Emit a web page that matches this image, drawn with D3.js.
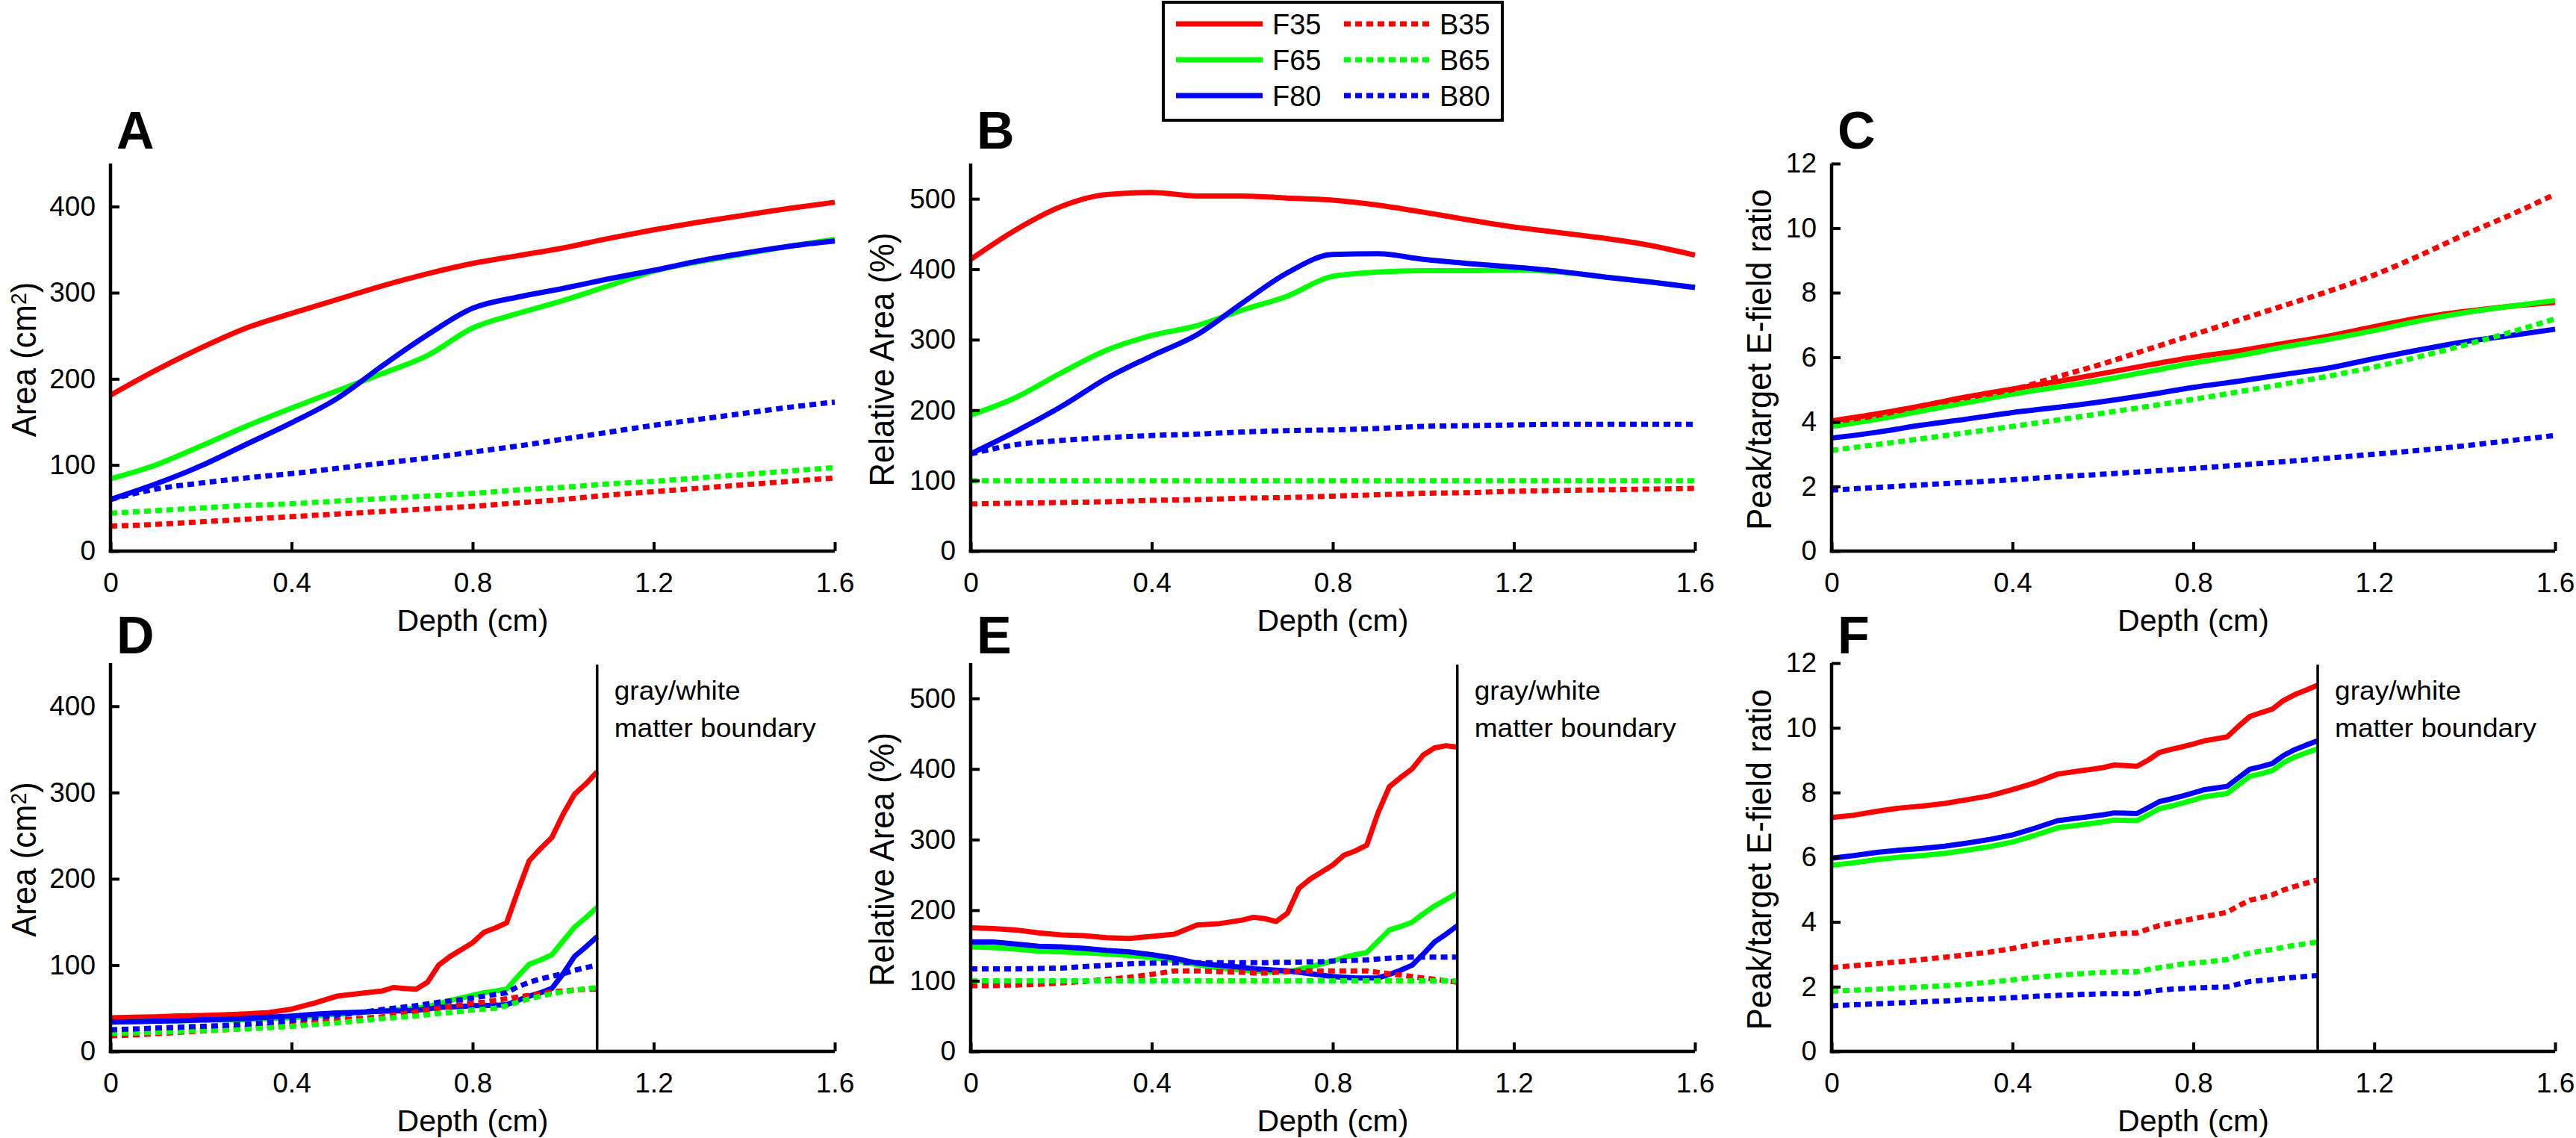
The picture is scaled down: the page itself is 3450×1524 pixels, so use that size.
<!DOCTYPE html>
<html><head><meta charset="utf-8">
<script src="https://cdn.jsdelivr.net/npm/d3@7"></script>
<style>
body{margin:0;background:#fff}
text{font-family:"Liberation Sans",Arial,Helvetica,sans-serif;fill:#000}
</style>
</head><body><svg id="c" width="3450" height="1524"></svg>
<script>
// ---------- data ----------
const seriesNames = ["F35","F65","F80","B35","B65","B80"];
const seriesColors = ["#ff0000","#00ff00","#0000ff","#ff0000","#00ff00","#0000ff"];
const seriesDotted = [false,false,false,true,true,true];
const xTicks = [0,0.4,0.8,1.2,1.6];
const xTickLabels = ["0","0.4","0.8","1.2","1.6"];
const boundaryDepth = 1.075;

const depthTop = [0,0.1,0.2,0.3,0.4,0.5,0.6,0.7,0.8,0.9,1.0,1.1,1.2,1.3,1.4,1.5,1.6];
const depthBottom = [0,0.05,0.1,0.15,0.2,0.25,0.3,0.35,0.4,0.45,0.5,0.55,
  0.6,0.625,0.65,0.675,0.7,0.725,0.75,0.775,0.8,0.825,0.85,0.875,0.9,0.925,0.95,0.975,1.0,1.025,1.05,1.075];

// Panel A: Area (cm^2)
const aF35 = [181,210,236,259,276,292,308,322,334,343,352,363,373,382,390,398,405];
const aF65 = [84,100,122,145,166,186,206,227,259,276,291,308,325,336,345,354,362];
const aF80 = [60,78,99,124,149,177,215,251,282,295,305,316,326,337,346,354,360];
const aB35 = [29,31,34,37,40,43,46,49,52,56,60,65,69,73,77,81,85];
const aB65 = [44,47,50,53,55,58,61,64,67,71,74,78,81,85,89,93,97];
const aB80 = [60,72,79,85,90,96,102,108,115,122,130,138,146,153,160,167,173];
// Panel B: Relative Area (%)
const bF35 = [414,456,489,506,509,504,504,501,498,491,481,470,460,452,444,434,420];
const bF65 = [193,218,253,285,306,320,342,362,390,396,398,398,399,396,389,382,374];
const bF80 = [138,170,205,245,277,307,352,395,421,422,414,408,403,397,389,382,374];
const bB35 = [67,68,69,70,72,73,75,76,78,80,82,83,85,86,87,88,89];
const bB65 = [100,100,100,100,100,100,100,100,100,100,100,100,100,100,100,100,100];
const bB80 = [138,151,157,161,164,166,169,171,172,174,177,178,179,180,180,180,180];
// Panel C: Peak/target E-field ratio
const cF35 = [4.03,4.25,4.5,4.78,5.02,5.25,5.5,5.76,6.0,6.2,6.43,6.66,6.95,7.22,7.42,7.58,7.7];
const cF65 = [3.86,4.08,4.34,4.6,4.86,5.08,5.3,5.56,5.82,6.05,6.32,6.56,6.83,7.13,7.38,7.58,7.76];
const cF80 = [3.5,3.68,3.9,4.09,4.29,4.45,4.63,4.84,5.07,5.26,5.47,5.67,5.96,6.23,6.48,6.67,6.87];
const cB35 = [4.0,4.2,4.5,4.75,5.0,5.4,5.8,6.25,6.7,7.15,7.6,8.05,8.55,9.15,9.8,10.4,11.05];
const cB65 = [3.12,3.3,3.48,3.67,3.86,4.06,4.27,4.48,4.7,4.93,5.17,5.42,5.7,6.02,6.38,6.77,7.19];
const cB80 = [1.89,1.97,2.05,2.13,2.21,2.3,2.38,2.47,2.56,2.66,2.77,2.88,3.0,3.12,3.26,3.42,3.58];
// Panel D
const dF35 = [39,39.5,40,41,41.5,42.5,43.5,45,49,56,64,67,70,74,73,72,80,100,110,118,126,138,143,149,186,221,235,248,275,298,310,324];
const dF65 = [34,34.5,35,35.5,36,36.5,37,38,39,41,43,45,47,48,49,50,52,55,59,62,65,68,70,72,87,101,106,112,128,144,155,167];
const dF80 = [34,34.5,35,35.5,36.5,37,38,39.5,41,43,44.5,45.5,46.5,47,47,47.5,49,51,51.5,52,53,53,53.5,54,59,64,68,73,90,110,121,133];
const dB35 = [18,19,20.5,22,23.5,25,27,29,31,33.5,36,38,40,42,44,46,48,50,52,54,56,57,59,61,63,65,67,69,70,71,72,72];
const dB65 = [21,21.5,22,23,24,25,26,27.5,29,31,33,35.5,38,39,40,41,42.5,44,45,46.5,48,49,50,53,57,61,64,67,69,71,72.5,74];
const dB80 = [25,26,27,28,29,30,31.5,33.5,36,39,42,45,48.5,50,51.5,53,55,57,58.5,60,62,64,66,68,75,80,84,87,90,94,97,100];
// Panel E
const eF35 = [175,174,172,168,165,164,161,160,163,166,179,181,186,190,188,184,196,231,244,254,264,278,284,292,338,375,388,400,420,430,433,431];
const eF65 = [148,147,145,142,141,140,138,136,133,129,123,118,115,114,113,113,113,116,120,124,128,133,137,140,156,172,177,183,195,206,215,224];
const eF80 = [155,155,152,149,148,146,143,141,137,132,125,122,119,117,116,115,114,112,110,108,106,105,104,104,104,109,115,122,138,155,166,178];
const eB35 = [93,93,94,95,97,99,102,105,109,114,114,113,112,111,111,112,113,114,114,114,114,114,114,114,112,110,108,106,104,102,100,98];
const eB65 = [100,100,100,100,100,100,100,100,100,100,100,100,100,100,100,100,100,100,100,100,100,100,100,100,100,100,100,100,100,100,100,100];
const eB80 = [117,117,117,117.5,118,120,122,124,125,125.5,125.5,125.5,125.5,125.5,125.5,126,126,126.5,127,127,128,128.5,129,129.5,131,132,133,133.5,133.5,133.5,133.5,133.5];
// Panel F
const fF35 = [7.23,7.3,7.42,7.52,7.58,7.66,7.78,7.9,8.09,8.3,8.57,8.67,8.77,8.85,8.83,8.81,9.0,9.24,9.33,9.41,9.5,9.6,9.66,9.72,10.05,10.35,10.47,10.58,10.85,11.03,11.17,11.32];
const fF65 = [5.75,5.83,5.93,6.0,6.05,6.12,6.22,6.33,6.47,6.68,6.91,7.0,7.09,7.15,7.14,7.13,7.31,7.5,7.58,7.67,7.77,7.87,7.92,7.97,8.24,8.5,8.58,8.68,8.93,9.1,9.23,9.35];
const fF80 = [5.97,6.05,6.15,6.22,6.27,6.34,6.44,6.55,6.69,6.9,7.13,7.22,7.31,7.37,7.36,7.35,7.53,7.72,7.8,7.89,7.99,8.09,8.14,8.19,8.46,8.72,8.8,8.9,9.15,9.33,9.47,9.6];
const fB35 = [2.59,2.65,2.71,2.77,2.84,2.91,2.99,3.07,3.18,3.32,3.42,3.5,3.59,3.63,3.65,3.66,3.78,3.89,3.96,4.03,4.1,4.17,4.23,4.3,4.5,4.67,4.75,4.84,4.99,5.1,5.2,5.3];
const fB65 = [1.86,1.89,1.92,1.96,1.99,2.03,2.08,2.14,2.21,2.29,2.35,2.4,2.44,2.45,2.46,2.46,2.53,2.59,2.64,2.7,2.73,2.76,2.8,2.84,2.95,3.04,3.1,3.15,3.22,3.28,3.33,3.38];
const fB80 = [1.41,1.44,1.47,1.5,1.53,1.56,1.6,1.62,1.66,1.7,1.73,1.76,1.78,1.78,1.78,1.78,1.84,1.89,1.92,1.94,1.96,1.97,1.98,1.99,2.08,2.16,2.19,2.22,2.26,2.29,2.32,2.34];

const yTicksArea = [0,100,200,300,400];
const yTicksRel = [0,100,200,300,400,500];
const yTicksRatio = [0,2,4,6,8,10,12];

// ---------- layout ----------
const svg = d3.select("#c");
svg.append("rect").attr("width",3450).attr("height",1524).attr("fill","#fff");

const cols = [[148,1118],[1300,2270],[2453,3422]];
const rows = [[738,219],[1408,888]];

const panels = [
  {letter:"A", c:0, r:0, ymax:450, ticks:yTicksArea, label:"area", depth:depthTop, data:[aF35,aF65,aF80,aB35,aB65,aB80], boundary:false, off:100},
  {letter:"B", c:1, r:0, ymax:550, ticks:yTicksRel, label:"rel", depth:depthTop, data:[bF35,bF65,bF80,bB35,bB65,bB80], boundary:false, off:103},
  {letter:"C", c:2, r:0, ymax:12, ticks:yTicksRatio, label:"ratio", depth:depthTop, data:[cF35,cF65,cF80,cB35,cB65,cB80], boundary:false, off:81},
  {letter:"D", c:0, r:1, ymax:450, ticks:yTicksArea, label:"area", depth:depthBottom, data:[dF35,dF65,dF80,dB35,dB65,dB80], boundary:true, off:100},
  {letter:"E", c:1, r:1, ymax:550, ticks:yTicksRel, label:"rel", depth:depthBottom, data:[eF35,eF65,eF80,eB35,eB65,eB80], boundary:true, off:103},
  {letter:"F", c:2, r:1, ymax:12, ticks:yTicksRatio, label:"ratio", depth:depthBottom, data:[fF35,fF65,fF80,fB35,fB65,fB80], boundary:true, off:81}
];

panels.forEach(p => {
  const [xa,xb] = cols[p.c];
  const [ya,yb] = rows[p.r];
  const x = d3.scaleLinear().domain([0,1.6]).range([xa,xb]);
  const y = d3.scaleLinear().domain([0,p.ymax]).range([ya,yb]);
  const g = svg.append("g");

  // lines
  const curve = p.r === 0 ? d3.curveMonotoneX : d3.curveLinear;
  p.data.forEach((vals,i) => {
    const pts = p.depth.map((d,k)=>[d, vals[k]]).filter(q=>q[1]!==undefined);
    const line = d3.line().x(q=>x(q[0])).y(q=>y(q[1])).curve(curve);
    g.append("path").attr("d", line(pts)).attr("fill","none")
      .attr("stroke", seriesColors[i]).attr("stroke-width",7)
      .attr("stroke-linejoin","round")
      .attr("stroke-dasharray", seriesDotted[i] ? "9 6" : null);
  });

  // boundary
  if (p.boundary) {
    const bx = x(boundaryDepth);
    g.append("line").attr("x1",bx).attr("x2",bx)
      .attr("y1",yb+2).attr("y2",ya).attr("stroke","#000").attr("stroke-width",3.5);
    const t = g.append("text").attr("font-size",35)
      .attr("transform",`translate(${bx+23},${yb+49}) scale(1.06,1)`);
    t.append("tspan").attr("x",0).attr("y",0).text("gray/white");
    t.append("tspan").attr("x",0).attr("y",50).text("matter boundary");
  }

  // axes
  const xAxis = d3.axisBottom(x).tickValues(xTicks).tickFormat((d,i)=>xTickLabels[i])
    .tickSizeInner(-12).tickSizeOuter(0).tickPadding(29);
  const gx = g.append("g").attr("transform",`translate(0,${ya})`).call(xAxis);
  const yAxis = d3.axisLeft(y).tickValues(p.ticks).tickFormat(d3.format("d"))
    .tickSizeInner(-12).tickSizeOuter(0).tickPadding(20);
  const gy = g.append("g").attr("transform",`translate(${xa},0)`).call(yAxis);
  [gx,gy].forEach(ax => {
    ax.select(".domain").attr("stroke","#000").attr("stroke-width",4.5);
    ax.selectAll(".tick line").attr("stroke","#000").attr("stroke-width",4);
    ax.selectAll(".tick text").attr("font-size",37).attr("font-family","Liberation Sans, Arial, sans-serif").attr("fill","#000");
  });
  gx.select(".domain").attr("d",`M${xa-2.25},0H${xb}`);
  gy.select(".domain").attr("d",`M0,${yb}V${ya+2.25}`);

  // x label
  g.append("text").attr("x",(xa+xb)/2).attr("y",ya+107).attr("text-anchor","middle")
    .attr("font-size",41).text("Depth (cm)");

  // y label
  const yl = g.append("text").attr("transform",`translate(${xa-p.off},${(ya+yb)/2+3}) rotate(-90) scale(0.95,1)`)
    .attr("text-anchor","middle").attr("font-size",46);
  if (p.label === "area") {
    yl.append("tspan").text("Area (cm");
    yl.append("tspan").attr("font-size",30).attr("dy",-13).text("2");
    yl.append("tspan").attr("dy",13).text(")");
  } else if (p.label === "rel") {
    yl.text("Relative Area (%)");
  } else {
    yl.text("Peak/target E-field ratio");
  }

  // panel letter
  g.append("text").attr("x",xa+8).attr("y",p.r===0?199:875).attr("font-size",70)
    .attr("font-weight","bold").text(p.letter);
});

// legend
const lg = svg.append("g");
lg.append("rect").attr("x",1558).attr("y",3).attr("width",454).attr("height",158)
  .attr("fill","#fff").attr("stroke","#000").attr("stroke-width",4);
const legRowY = [32,80,128];
seriesNames.forEach((n,i) => {
  const col = i < 3 ? 0 : 1;
  const ry = legRowY[i % 3];
  const lx0 = col === 0 ? 1575 : 1800;
  const lx1 = col === 0 ? 1691 : 1915;
  const tx = col === 0 ? 1704 : 1928;
  lg.append("line").attr("x1",lx0).attr("x2",lx1).attr("y1",ry).attr("y2",ry)
    .attr("stroke",seriesColors[i]).attr("stroke-width",7)
    .attr("stroke-dasharray", seriesDotted[i] ? "9 6" : null);
  lg.append("text").attr("x",tx).attr("y",ry+13.5).attr("font-size",38).text(n);
});
</script>
</body></html>
